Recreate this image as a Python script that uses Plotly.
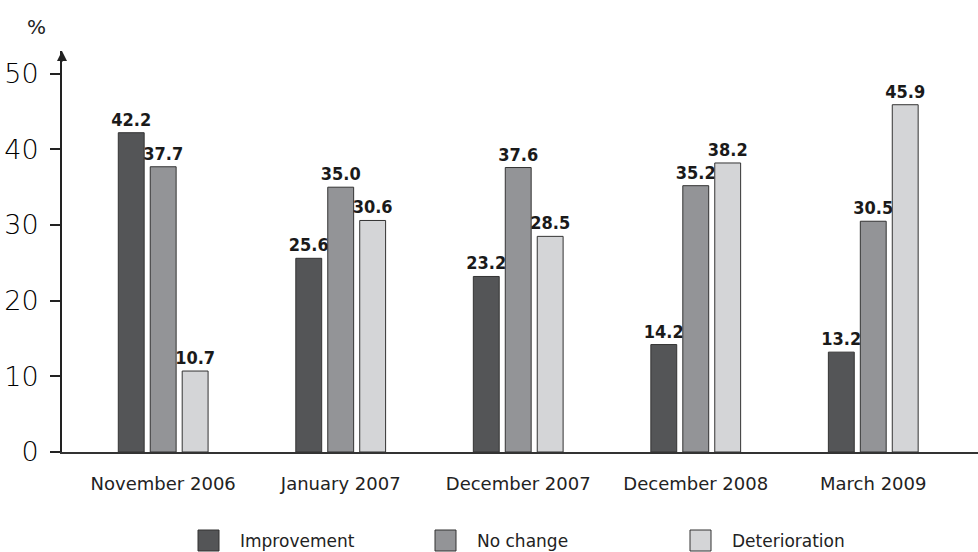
import plotly.graph_objects as go

categories = ["November 2006", "January 2007", "December 2007", "December 2008", "March 2009"]
series_names = ["Improvement", "No change", "Deterioration"]
improvement = [42.2, 25.6, 23.2, 14.2, 13.2]
no_change = [37.7, 35.0, 37.6, 35.2, 30.5]
deterioration = [10.7, 30.6, 28.5, 38.2, 45.9]
colors = ["#545557", "#939497", "#d4d5d7"]
y_ticks = [0, 10, 20, 30, 40, 50]

fig = go.Figure()
for name, vals, col in zip(series_names, [improvement, no_change, deterioration], colors):
    fig.add_trace(go.Bar(
        x=categories, y=vals, name=name,
        marker=dict(color=col, line=dict(color="#333333", width=1)),
        text=[f"{v:.1f}" for v in vals], textposition="outside", constraintext="none",
        textfont=dict(family="DejaVu Sans Condensed", size=18, color="#1a1a1a", weight="bold"),
        cliponaxis=False, showlegend=False,
    ))

fig.update_layout(
    width=978, height=552,
    margin=dict(l=62, r=0, t=51, b=100, autoexpand=False),
    plot_bgcolor="white", paper_bgcolor="white",
    barmode="group", bargap=0.46, bargroupgap=0.19,
    font=dict(family="DejaVu Sans", color="#222222"),
    xaxis=dict(type="category", range=[-0.57, 4.59], showline=True, linecolor="#333333",
               linewidth=2, ticks="", tickfont=dict(size=18), showgrid=False, zeroline=False,
               automargin=False, ticklabelstandoff=14),
    yaxis=dict(range=[0, 53], tickvals=y_ticks, showline=True, linecolor="#222222", linewidth=2,
               ticks="outside", ticklen=10, tickwidth=2, tickcolor="#222222", automargin=False,
               tickfont=dict(size=27, weight=300, color="#000000"), showgrid=False, zeroline=False,
               ticklabelstandoff=6),
)

# arrowhead on y axis
fig.add_annotation(x=0, y=1.0, xref="paper", yref="paper", ax=0, ay=12, axref="pixel", ayref="pixel",
                   showarrow=True, arrowhead=2, arrowsize=1, arrowwidth=2, arrowcolor="#222222", text="")
fig.add_annotation(x=-26 / 916, y=(452 - 27) / 401, xref="paper", yref="paper", text="%",
                   showarrow=False, font=dict(size=20), xanchor="center", yanchor="middle")

# legend
leg_x = [198, 435, 690]
for name, col, lx in zip(series_names, colors, leg_x):
    x0 = (lx - 62) / 916
    x1 = (lx + 21 - 62) / 916
    y0 = (452 - 551) / 401
    y1 = (452 - 530) / 401
    fig.add_shape(type="rect", xref="paper", yref="paper", x0=x0, x1=x1, y0=y0, y1=y1,
                  fillcolor=col, line=dict(color="#333333", width=1))
    fig.add_annotation(x=(lx + 40 - 62) / 916, y=(452 - 541) / 401, xref="paper", yref="paper",
                       text=name, showarrow=False, xanchor="left", yanchor="middle",
                       font=dict(size=17))

fig.write_html("out.html", config={"displayModeBar": False},
               post_script="document.body.style.margin='0';document.body.style.overflow='hidden';")
